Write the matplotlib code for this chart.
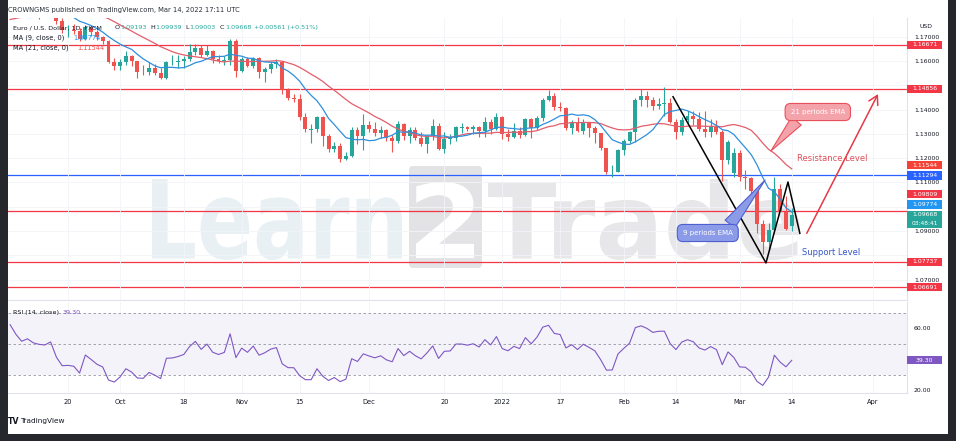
"""EUR/USD daily chart (TradingView screenshot style) with Learn2Trade markup."""

import numpy as np
import pandas as pd
import matplotlib
matplotlib.use("Agg")
import matplotlib.pyplot as plt
import matplotlib.transforms as mtransforms
from matplotlib.patches import Rectangle, PathPatch, FancyBboxPatch
from matplotlib.textpath import TextPath
from matplotlib.font_manager import FontProperties

W, H, DPI = 956, 441, 100
plt.rcParams['font.family'] = ['DejaVu Sans']

# ---------------------------------------------------------------- data
# closes before the visible window (Aug 2 - Sep 3 2021), feed the MAs / RSI only
warmup_closes = [1.1870, 1.1868, 1.1835, 1.1833, 1.1760, 1.1736, 1.1718, 1.1738,
                 1.1730, 1.1795, 1.1778, 1.1712, 1.1710, 1.1677, 1.1700, 1.1747,
                 1.1756, 1.1773, 1.1751, 1.1795, 1.1799, 1.1807, 1.1840, 1.1874,
                 1.1880]

dates = pd.bdate_range("2021-09-06", "2022-03-14")

opens = [1.1880, 1.1868, 1.1840, 1.1817, 1.1826, 1.1813, 1.1808, 1.1806, 1.1815, 1.1764,
         1.1726, 1.1727, 1.1723, 1.1690, 1.1740, 1.1720, 1.1697, 1.1683, 1.1597, 1.1580,
         1.1595, 1.1620, 1.1598, 1.1555, 1.1553, 1.1570, 1.1552, 1.1528, 1.1594, 1.1595,
         1.1600, 1.1607, 1.1635, 1.1655, 1.1623, 1.1643, 1.1608, 1.1598, 1.1605, 1.1682,
         1.1558, 1.1607, 1.1580, 1.1614, 1.1554, 1.1567, 1.1586, 1.1594, 1.1480, 1.1446,
         1.1445, 1.1368, 1.1318, 1.1320, 1.1369, 1.1290, 1.1236, 1.1250, 1.1198, 1.1209,
         1.1317, 1.1291, 1.1338, 1.1320, 1.1305, 1.1316, 1.1285, 1.1270, 1.1342, 1.1290,
         1.1315, 1.1282, 1.1258, 1.1290, 1.1331, 1.1237, 1.1281, 1.1283, 1.1325, 1.1327,
         1.1320, 1.1328, 1.1310, 1.1350, 1.1322, 1.1370, 1.1300, 1.1286, 1.1310, 1.1297,
         1.1360, 1.1325, 1.1366, 1.1440, 1.1455, 1.1412, 1.1406, 1.1325, 1.1345, 1.1313,
         1.1345, 1.1325, 1.1303, 1.1240, 1.1144, 1.1145, 1.1234, 1.1270, 1.1306, 1.1440,
         1.1457, 1.1441, 1.1416, 1.1425, 1.1426, 1.1350, 1.1307, 1.1358, 1.1375, 1.1362,
         1.1321, 1.1307, 1.1327, 1.1308, 1.1192, 1.1140, 1.1220, 1.1124, 1.1120, 1.1067,
         1.0930, 1.0855, 1.0906, 1.1074, 1.0980, 1.09193]
highs = [1.1884, 1.1870, 1.1845, 1.1845, 1.1868, 1.1818, 1.1846, 1.1830, 1.1819, 1.1775,
         1.1749, 1.1751, 1.1736, 1.1750, 1.1744, 1.1726, 1.1703, 1.1688, 1.1611, 1.1609,
         1.1640, 1.1625, 1.1602, 1.1582, 1.1595, 1.1587, 1.1571, 1.1600, 1.1624, 1.1624,
         1.1619, 1.1669, 1.1668, 1.1666, 1.1665, 1.1645, 1.1624, 1.1620, 1.1692, 1.1692,
         1.1617, 1.1616, 1.1617, 1.1617, 1.1577, 1.1595, 1.1608, 1.1598, 1.1489, 1.1464,
         1.1465, 1.1385, 1.1340, 1.1374, 1.1373, 1.1298, 1.1265, 1.1264, 1.1225, 1.1329,
         1.1330, 1.1383, 1.1353, 1.1350, 1.1333, 1.1320, 1.1295, 1.1355, 1.1346, 1.1329,
         1.1327, 1.1306, 1.1294, 1.1361, 1.1344, 1.1307, 1.1300, 1.1334, 1.1345, 1.1334,
         1.1335, 1.1333, 1.1369, 1.1360, 1.1386, 1.1375, 1.1321, 1.1346, 1.1330, 1.1365,
         1.1364, 1.1375, 1.1449, 1.1482, 1.1470, 1.1432, 1.1411, 1.1356, 1.1369, 1.1363,
         1.1350, 1.1333, 1.1305, 1.1244, 1.1173, 1.1239, 1.1279, 1.1310, 1.1449, 1.1483,
         1.1475, 1.1453, 1.1449, 1.1495, 1.1446, 1.1362, 1.1369, 1.1395, 1.1394, 1.1390,
         1.1395, 1.1360, 1.1359, 1.1318, 1.1274, 1.1240, 1.1233, 1.1151, 1.1124, 1.1069,
         1.0946, 1.0933, 1.1121, 1.1095, 1.1044, 1.09939]
lows = [1.1857, 1.1834, 1.1803, 1.1800, 1.1808, 1.1771, 1.1794, 1.1782, 1.1751, 1.1717,
        1.1700, 1.1712, 1.1684, 1.1685, 1.1701, 1.1686, 1.1669, 1.1590, 1.1562, 1.1563,
        1.1584, 1.1578, 1.1529, 1.1542, 1.1541, 1.1541, 1.1524, 1.1527, 1.1583, 1.1571,
        1.1570, 1.1600, 1.1624, 1.1618, 1.1619, 1.1590, 1.1591, 1.1584, 1.1584, 1.1535,
        1.1553, 1.1576, 1.1570, 1.1529, 1.1513, 1.1552, 1.1573, 1.1465, 1.1440, 1.1433,
        1.1358, 1.1307, 1.1264, 1.1309, 1.1249, 1.1226, 1.1226, 1.1186, 1.1194, 1.1204,
        1.1257, 1.1235, 1.1309, 1.1293, 1.1282, 1.1271, 1.1227, 1.1262, 1.1275, 1.1262,
        1.1275, 1.1252, 1.1222, 1.1275, 1.1234, 1.1223, 1.1260, 1.1270, 1.1302, 1.1310,
        1.1300, 1.1289, 1.1286, 1.1299, 1.1318, 1.1280, 1.1272, 1.1282, 1.1285, 1.1290,
        1.1285, 1.1314, 1.1354, 1.1435, 1.1400, 1.1396, 1.1315, 1.1300, 1.1308, 1.1300,
        1.1288, 1.1264, 1.1233, 1.1134, 1.1121, 1.1142, 1.1212, 1.1262, 1.1266, 1.1414,
        1.1410, 1.1400, 1.1404, 1.1373, 1.1343, 1.1281, 1.1295, 1.1340, 1.1335, 1.1313,
        1.1286, 1.1289, 1.1300, 1.1106, 1.1177, 1.1121, 1.1108, 1.1074, 1.1037, 1.0893,
        1.0806, 1.0822, 1.0902, 1.0987, 1.0906, 1.09003]
closes = [1.1868, 1.1840, 1.1817, 1.1826, 1.1813, 1.1808, 1.1806, 1.1815, 1.1764, 1.1726,
          1.1727, 1.1723, 1.1690, 1.1740, 1.1720, 1.1697, 1.1683, 1.1597, 1.1580, 1.1595,
          1.1620, 1.1598, 1.1555, 1.1553, 1.1570, 1.1552, 1.1528, 1.1594, 1.1595, 1.1600,
          1.1607, 1.1635, 1.1655, 1.1623, 1.1643, 1.1608, 1.1598, 1.1605, 1.1682, 1.1558,
          1.1607, 1.1580, 1.1614, 1.1554, 1.1567, 1.1586, 1.1594, 1.1480, 1.1446, 1.1445,
          1.1368, 1.1320, 1.1320, 1.1369, 1.1290, 1.1236, 1.1250, 1.1198, 1.1209, 1.1317,
          1.1291, 1.1338, 1.1320, 1.1305, 1.1316, 1.1285, 1.1270, 1.1342, 1.1290, 1.1315,
          1.1282, 1.1258, 1.1290, 1.1331, 1.1237, 1.1281, 1.1283, 1.1327, 1.1327, 1.1320,
          1.1328, 1.1310, 1.1350, 1.1322, 1.1370, 1.1300, 1.1286, 1.1310, 1.1297, 1.1360,
          1.1325, 1.1366, 1.1440, 1.1455, 1.1412, 1.1406, 1.1325, 1.1345, 1.1313, 1.1345,
          1.1325, 1.1303, 1.1240, 1.1144, 1.1145, 1.1234, 1.1270, 1.1306, 1.1440, 1.1457,
          1.1441, 1.1416, 1.1425, 1.1426, 1.1350, 1.1307, 1.1358, 1.1375, 1.1362, 1.1321,
          1.1307, 1.1327, 1.1308, 1.1192, 1.1268, 1.1220, 1.1124, 1.1120, 1.1067, 1.0930,
          1.0855, 1.0906, 1.1074, 1.0980, 1.0910, 1.09668]

# drawn horizontal levels
red_levels = [1.16671, 1.14856, 1.09809, 1.07737, 1.06691]
blue_levels = [1.11294]

# hand drawn zigzag and arrow (bar index, price)
zigzag_x = [114.5, 130.55, 134.35, 136.4]
zigzag_y = [1.1453, 1.0769, 1.1102, 1.0891]
arrow_from = (137.6, 1.0891)
arrow_to = (149.9, 1.1464)

tick_dates = ['2021-09-20', '2021-10-01', '2021-10-18', '2021-11-01', '2021-11-15',
              '2021-12-01', '2021-12-20', '2022-01-03', '2022-01-17', '2022-02-01',
              '2022-02-14', '2022-03-01', '2022-03-14', '2022-04-01']
tick_labels = ['20', 'Oct', '18', 'Nov', '15', 'Dec', '20', '2022', '17', 'Feb',
               '14', 'Mar', '14', 'Apr']

# price scale tags (value, colour)
price_tags = [(1.16671, '#f23645'), (1.14856, '#f23645'), (1.11544, '#f44336'),
              (1.11294, '#2962ff'), (1.09809, '#f23645'), (1.09774, '#2196f3'),
              (1.09668, '#26a69a'), (1.07737, '#f23645'), (1.06691, '#f23645')]
price_ticks = [1.07, 1.08, 1.09, 1.10, 1.11, 1.12, 1.13, 1.14, 1.15, 1.16, 1.17]
rsi_last = 39.30

UP, DOWN = '#26a69a', '#ef5350'
TXT = '#131722'


def fx(x):
    return x / W


def fy(y):
    return 1 - y / H


def main():
    o = np.array(opens)
    h = np.array(highs)
    l = np.array(lows)
    c = np.array(closes)
    n = len(c)
    x = np.arange(n)

    all_closes = pd.Series(warmup_closes + closes)
    ma9 = all_closes.rolling(9).mean().iloc[-n:].values
    ma21 = all_closes.rolling(21).mean().iloc[-n:].values
    delta = all_closes.diff().fillna(0)
    gain = delta.clip(lower=0).ewm(alpha=1 / 14, adjust=False).mean()
    loss = (-delta.clip(upper=0)).ewm(alpha=1 / 14, adjust=False).mean()
    rsi = (100 - 100 / (1 + gain / loss)).iloc[-n:].values

    all_days = pd.bdate_range('2021-09-06', '2022-04-29')
    tick_pos = all_days.get_indexer(pd.to_datetime(tick_dates))

    fig = plt.figure(figsize=(W / DPI, H / DPI), dpi=DPI, facecolor='white')
    ax = fig.add_axes([fx(8), fy(300), (907 - 8) / W, (300 - 18) / H])
    rx = fig.add_axes([fx(8), fy(393), (907 - 8) / W, (393 - 302) / H], sharex=ax)

    xlim = (-0.36, -0.36 + 899 / 5.79)

    # ---------------- main price panel
    ax.set_xlim(*xlim)
    ax.set_ylim(1.061646, 1.177695)
    ax.set_xticks(tick_pos)
    ax.yaxis.tick_right()
    ax.set_yticks(price_ticks)
    ax.tick_params(axis='y', length=0, pad=5, labelsize=4.4, labelcolor=TXT)
    ax.tick_params(axis='x', length=0, labelbottom=False)
    ax.grid(True, color='#f2f4f9', lw=0.6, zorder=0)
    for side in ('top', 'left'):
        ax.spines[side].set_visible(False)
    for side in ('right', 'bottom'):
        ax.spines[side].set_color('#e0e3eb')
        ax.spines[side].set_linewidth(0.8)

    # watermark
    bold = FontProperties(family='DejaVu Sans', weight='bold')

    def watermark(text, x0, x1, ytop, ybot, color, z=0.5):
        tp = TextPath((0, 0), text, size=100, prop=bold)
        bb = tp.get_extents()
        t = (mtransforms.Affine2D().translate(-bb.x0, -bb.y0)
             .scale((x1 - x0) / bb.width, (ybot - ytop) / bb.height)
             .translate(x0, H - ybot))
        ax.add_patch(PathPatch(t.transform_path(tp), fc=color, ec='none', zorder=z,
                               transform=mtransforms.IdentityTransform()))

    watermark('Learn', 152, 402, 179, 260, '#e9f0f4')
    ax.add_patch(FancyBboxPatch((409, H - 268), 73, 102, boxstyle='round,pad=0,rounding_size=4',
                                fc='#e3e3e6', ec='none', zorder=0.5,
                                transform=mtransforms.IdentityTransform()))
    watermark('2', 416, 474, 182, 258, 'white', z=0.6)
    watermark('Trade', 488, 800, 179, 260, '#e7e7e9')

    for lv in red_levels:
        ax.axhline(lv, color='#f23645', lw=0.9, zorder=1.5)
    for lv in blue_levels:
        ax.axhline(lv, color='#2962ff', lw=0.9, zorder=1.5)

    colors = np.where(c >= o, UP, DOWN)
    ax.vlines(x, l, h, colors=colors, lw=0.8, zorder=2)
    ax.bar(x, np.maximum(np.abs(c - o), 0.00012), 0.68, bottom=np.minimum(o, c),
           color=colors, lw=0, zorder=3)

    ax.plot(x, ma21, color='#e35d6a', lw=0.9, zorder=4)
    ax.plot(x, ma9, color='#2f8fdc', lw=0.9, zorder=4)

    # drawings
    ax.plot(zigzag_x, zigzag_y, color='black', lw=1.1, zorder=5)
    ax.annotate('', xy=arrow_to, xytext=arrow_from, zorder=5,
                arrowprops=dict(arrowstyle='->,head_length=0.7,head_width=0.4',
                                color='#e53946', lw=1.1, shrinkA=0, shrinkB=0,
                                mutation_scale=9))
    ax.annotate('21 periods EMA', xy=(131.4, 1.12296), xytext=(139.5, 1.13901),
                ha='center', va='center', fontsize=5.0, color='white', zorder=6,
                bbox=dict(boxstyle='round,pad=0.8', fc='#f5a3aa', ec='#e8505c', lw=0.8),
                arrowprops=dict(arrowstyle='wedge,tail_width=0.9', fc='#f5a3aa',
                                ec='#e8505c', lw=0.8, relpos=(0.2, 0.0),
                                shrinkA=0, shrinkB=0, mutation_scale=10))
    ax.annotate('9 periods EMA', xy=(130.4, 1.11103), xytext=(120.5, 1.08922),
                ha='center', va='center', fontsize=5.0, color='white', zorder=6,
                bbox=dict(boxstyle='round,pad=0.8', fc='#8b9be8', ec='#4f5fcf', lw=0.8),
                arrowprops=dict(arrowstyle='wedge,tail_width=0.9', fc='#8b9be8',
                                ec='#4f5fcf', lw=0.8, relpos=(0.85, 1.0),
                                shrinkA=0, shrinkB=0, mutation_scale=10))
    ax.text(135.9, 1.12008, 'Resistance Level', color='#e0505a', fontsize=6.0,
            va='center', ha='left', zorder=6)
    ax.text(136.8, 1.0810, 'Support Level', color='#3556c8', fontsize=6.0,
            va='center', ha='left', zorder=6)

    # ---------------- RSI panel
    rx.axhspan(30, 70, color='#7e57c2', alpha=0.07, lw=0)
    for lv in (70, 50, 30):
        rx.axhline(lv, color='#9598a1', lw=0.6, ls=(0, (3, 3)))
    rx.plot(x, rsi, color='#7e57c2', lw=0.8)
    rx.set_ylim(17.99, 77.08)
    rx.set_yticks([20, 60])
    rx.set_yticklabels(['20.00', '60.00'])
    rx.yaxis.tick_right()
    rx.tick_params(axis='y', length=0, pad=5, labelsize=4.4, labelcolor=TXT)
    rx.set_xticks(tick_pos)
    rx.set_xticklabels(tick_labels)
    rx.tick_params(axis='x', length=0, pad=4, labelsize=4.8, labelcolor=TXT)
    rx.grid(True, axis='x', color='#f2f4f9', lw=0.6)
    rx.set_xlim(*xlim)
    rx.spines['top'].set_visible(False)
    rx.spines['left'].set_visible(False)
    for side in ('right', 'bottom'):
        rx.spines[side].set_color('#e0e3eb')
        rx.spines[side].set_linewidth(0.8)

    # ---------------- price-scale tags (stacked so they do not overlap)
    half, gap = 4.15, 2.0
    prev_top = -1e9
    spans = []
    for val, col in sorted(price_tags):
        cy = ax.transData.transform((0, val))[1]
        extra = 9.0 if val == closes[-1] else 0.0
        bottom = cy - half - extra
        if bottom < prev_top + gap:
            shift = prev_top + gap - bottom
            cy += shift
            bottom += shift
        top = cy + half
        prev_top = top
        spans.append((bottom, top))
        fig.add_artist(Rectangle((fx(907), bottom / H), 35 / W, (top - bottom) / H,
                                 transform=fig.transFigure, fc=col, ec='none', zorder=5))
        fig.text(fx(924.5), cy / H, f'{val:.5f}', color='white', fontsize=4.4,
                 ha='center', va='center', zorder=6)
        if extra:
            fig.text(fx(924.5), (cy - 8.6) / H, '03:48:41', color='white', fontsize=4.2,
                     ha='center', va='center', zorder=6)

    # price-scale numbers hidden by a tag are not drawn
    labels = []
    for v in price_ticks:
        ty = ax.transData.transform((0, v))[1]
        covered = any(b - 2.5 < ty < t + 2.5 for b, t in spans)
        labels.append('' if covered else f'{v:.5f}')
    ax.set_yticklabels(labels)

    cy = rx.transData.transform((0, rsi_last))[1]
    fig.add_artist(Rectangle((fx(907), (cy - half) / H), 35 / W, 2 * half / H,
                             transform=fig.transFigure, fc='#7e57c2', ec='none', zorder=5))
    fig.text(fx(924.5), cy / H, f'{rsi_last:.2f}', color='white', fontsize=4.4,
             ha='center', va='center', zorder=6)
    fig.text(fx(926), fy(26.7), 'USD', color=TXT, fontsize=4.4, ha='center', va='center')

    # ---------------- header / legends
    fig.text(fx(8), fy(10), 'CROWNGMS published on TradingView.com, Mar 14, 2022 17:11 UTC',
             color='#2a2e39', fontsize=4.9, va='center')
    fig.text(fx(13), fy(27.5), 'Euro / U.S. Dollar, 1D, FXCM', color=TXT, fontsize=4.6,
             va='center')
    for lab, val, px in (('O', '1.09193', 115), ('H', '1.09939', 150),
                         ('L', '1.09003', 185), ('C', '1.09668', 220)):
        fig.text(fx(px), fy(27.5), lab, color=TXT, fontsize=4.6, va='center')
        fig.text(fx(px + (4 if lab == 'L' else 5)), fy(27.5), val, color=UP,
                 fontsize=4.6, va='center')
    fig.text(fx(254), fy(27.5), '+0.00561 (+0.51%)', color=UP, fontsize=4.6, va='center')
    fig.text(fx(13), fy(37.7), 'MA (9, close, 0)', color=TXT, fontsize=4.8, va='center')
    fig.text(fx(73), fy(37.7), '1.09774', color='#2196f3', fontsize=4.8, va='center')
    fig.text(fx(13), fy(47.5), 'MA (21, close, 0)', color=TXT, fontsize=4.8, va='center')
    fig.text(fx(77), fy(47.5), '1.11544', color='#ef5350', fontsize=4.8, va='center')
    fig.text(fx(13), fy(312.3), 'RSI (14, close)', color=TXT, fontsize=4.6, va='center')
    fig.text(fx(63), fy(312.3), f'{rsi_last:.2f}', color='#7e57c2', fontsize=4.6,
             va='center')

    fig.text(fx(8), fy(421.5), 'TV', color=TXT, fontsize=5.6, weight='bold', va='center')
    fig.text(fx(20), fy(421.5), 'TradingView', color=TXT, fontsize=5.3, va='center')

    # dark screenshot frame
    for rect in ((0, 0, 8, H), (948, 0, W - 948, H), (0, 434, W, H - 434)):
        fig.add_artist(Rectangle((fx(rect[0]), fy(rect[1] + rect[3])), rect[2] / W,
                                 rect[3] / H, transform=fig.transFigure,
                                 fc='#26272d', ec='none', zorder=10))

    fig.savefig('out.png', dpi=DPI)
    plt.close(fig)


if __name__ == '__main__':
    main()
